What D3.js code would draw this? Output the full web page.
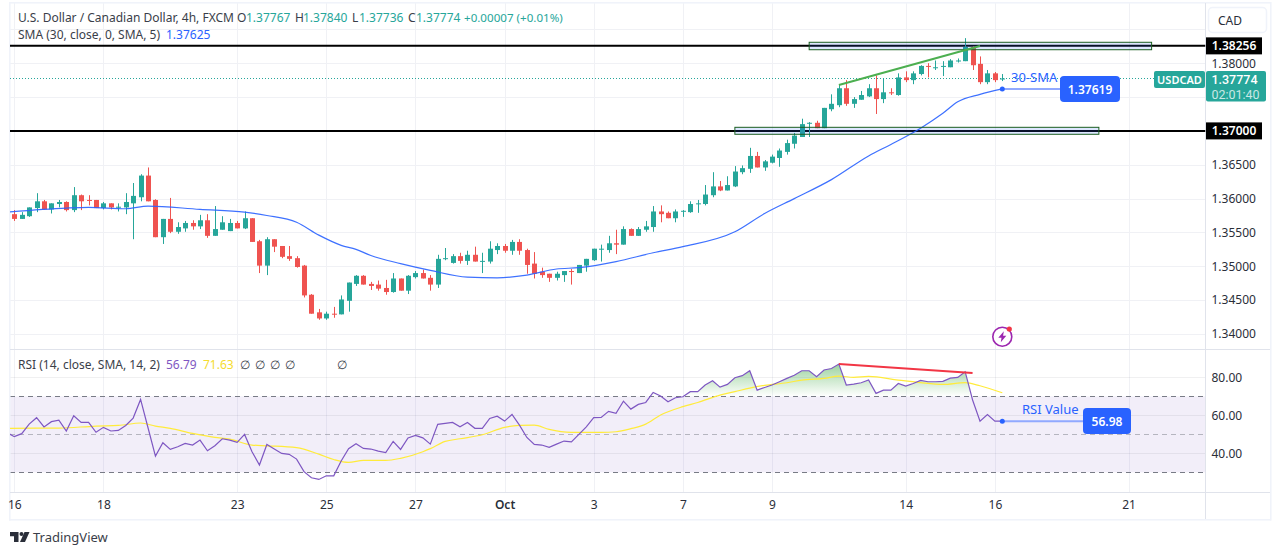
<!DOCTYPE html>
<html lang="en">
  <head>
    <meta charset="UTF-8" />
    <title>USDCAD 4h with SMA and RSI</title>
    <script src="https://d3js.org/d3.v7.min.js"></script>
    <style>
      body {
        margin: 0;
        background: #ffffff;
      }
      svg {
        display: block;
      }
      text {
        font-family: "Noto Sans", "Open Sans", sans-serif;
        font-size: 12px;
        fill: #131722;
      }
      .axis text {
        fill: #2a2e39;
      }
      .legend {
        fill: #3a3e49;
      }
      .tag {
        font-family: Roboto, sans-serif;
        font-size: 12.5px;
      }
    </style>
  </head>
  <body>
    <svg id="chart" width="1281" height="555"></svg>

    <script>
      // candles, one per 4h bar
      const opens = [
        1.3577, 1.357, 1.3574, 1.3586, 1.3596, 1.3584, 1.3592, 1.3595, 1.3583, 1.3605,
        1.3598, 1.3598, 1.3586, 1.3593, 1.3587, 1.3587, 1.3593, 1.3602, 1.3634, 1.3598,
        1.3543, 1.357, 1.3551, 1.3556, 1.3564, 1.3559, 1.3568, 1.3545, 1.3554, 1.3552,
        1.3564, 1.3556, 1.3571, 1.3537, 1.3501, 1.354, 1.353, 1.3515, 1.3512, 1.3501,
        1.3458, 1.3432, 1.3423, 1.343, 1.3429, 1.3449, 1.3474, 1.3486, 1.3474, 1.3473,
        1.3468, 1.3462, 1.3482, 1.3464, 1.3484, 1.349, 1.3483, 1.3473, 1.3511, 1.3505,
        1.3515, 1.3508, 1.3517, 1.3507, 1.3507, 1.3524, 1.353, 1.3523, 1.3536, 1.3524,
        1.3504, 1.3492, 1.3489, 1.3483, 1.3487, 1.3493, 1.349, 1.3501, 1.3509, 1.3525,
        1.3524, 1.3534, 1.3532, 1.3555, 1.3545, 1.3554, 1.3558, 1.3581, 1.3579, 1.3571,
        1.3581, 1.358, 1.3592, 1.3592, 1.3605, 1.3618, 1.3612, 1.3618, 1.3639, 1.3644,
        1.3663, 1.3646, 1.3653, 1.366, 1.3669, 1.3681, 1.3691, 1.3711, 1.3712, 1.3704,
        1.3732, 1.3738, 1.3763, 1.374, 1.3746, 1.3751, 1.3763, 1.3747, 1.3757, 1.3753,
        1.3779, 1.3775, 1.3784, 1.3796, 1.3793, 1.3795, 1.3794, 1.3803, 1.3803, 1.3824,
        1.3799, 1.3772, 1.3785, 1.37767,
      ];
      const highs = [
        1.3583, 1.358, 1.3587, 1.3608, 1.3598, 1.3593, 1.3598, 1.3596, 1.3617, 1.3606,
        1.3605, 1.3598, 1.3595, 1.3593, 1.3593, 1.3608, 1.3623, 1.3636, 1.3646, 1.3599,
        1.357, 1.3601, 1.3565, 1.3567, 1.3568, 1.3576, 1.3577, 1.3589, 1.3574, 1.357,
        1.3567, 1.3581, 1.3571, 1.3539, 1.3543, 1.354, 1.353, 1.353, 1.3515, 1.3502,
        1.3459, 1.3437, 1.3433, 1.344, 1.3457, 1.3476, 1.3487, 1.3487, 1.3477, 1.3479,
        1.348, 1.349, 1.3482, 1.3487, 1.3493, 1.3495, 1.3487, 1.3517, 1.3527, 1.3518,
        1.352, 1.3523, 1.3529, 1.352, 1.3537, 1.3534, 1.3533, 1.3539, 1.354, 1.3526,
        1.3521, 1.3498, 1.3489, 1.3492, 1.3493, 1.3496, 1.3502, 1.3511, 1.3526, 1.3532,
        1.3545, 1.3554, 1.3559, 1.3556, 1.3558, 1.3567, 1.3589, 1.359, 1.3581, 1.3584,
        1.3583, 1.3596, 1.3598, 1.362, 1.3639, 1.3626, 1.3633, 1.3648, 1.3649, 1.3675,
        1.3669, 1.3657, 1.3665, 1.3674, 1.3687, 1.3697, 1.3718, 1.3713, 1.3715, 1.3734,
        1.3754, 1.3768, 1.3775, 1.375, 1.3759, 1.3769, 1.3782, 1.3777, 1.3763, 1.3785,
        1.3788, 1.3788, 1.3797, 1.38, 1.3804, 1.3803, 1.3806, 1.3807, 1.3837, 1.3825,
        1.381, 1.379, 1.3787, 1.3784,
      ];
      const lows = [
        1.3567, 1.357, 1.3573, 1.358, 1.3584, 1.3578, 1.3587, 1.3581, 1.358, 1.3583,
        1.359, 1.3586, 1.3584, 1.3584, 1.3581, 1.3577, 1.354, 1.3596, 1.3596, 1.3543,
        1.3533, 1.3549, 1.3548, 1.3551, 1.3554, 1.3555, 1.3542, 1.3545, 1.3554, 1.3552,
        1.3556, 1.3555, 1.3536, 1.349, 1.3487, 1.3521, 1.3512, 1.3508, 1.3498, 1.3454,
        1.343, 1.3421, 1.3421, 1.3424, 1.3429, 1.3433, 1.3471, 1.3473, 1.3465, 1.3464,
        1.3458, 1.3461, 1.3464, 1.3459, 1.3482, 1.3482, 1.3464, 1.3468, 1.3509, 1.3504,
        1.3504, 1.3502, 1.3507, 1.349, 1.3504, 1.3518, 1.352, 1.3517, 1.3517, 1.3489,
        1.3482, 1.3483, 1.3477, 1.3479, 1.3477, 1.3473, 1.349, 1.3492, 1.3508, 1.3507,
        1.352, 1.3518, 1.3532, 1.3545, 1.3545, 1.3551, 1.3551, 1.3565, 1.3571, 1.3565,
        1.3573, 1.3579, 1.3579, 1.359, 1.3602, 1.3611, 1.3612, 1.3617, 1.3636, 1.3638,
        1.3646, 1.3641, 1.3652, 1.3647, 1.3665, 1.3674, 1.3691, 1.3691, 1.3704, 1.3704,
        1.3729, 1.3735, 1.3737, 1.3734, 1.3746, 1.375, 1.3725, 1.3741, 1.3753, 1.3752,
        1.3772, 1.3769, 1.3782, 1.3779, 1.379, 1.3781, 1.3794, 1.3801, 1.3803, 1.379,
        1.3769, 1.3769, 1.3772, 1.37736,
      ];
      const closes = [
        1.357, 1.3576, 1.3587, 1.3596, 1.3584, 1.3593, 1.3595, 1.3583, 1.3605, 1.3596,
        1.3597, 1.3586, 1.3593, 1.3587, 1.3588, 1.3595, 1.3604, 1.3634, 1.3596, 1.3543,
        1.357, 1.3551, 1.3558, 1.3564, 1.3559, 1.3568, 1.3545, 1.3555, 1.3565, 1.3564,
        1.3556, 1.3571, 1.3536, 1.3501, 1.354, 1.3529, 1.3514, 1.3511, 1.3499, 1.3457,
        1.343, 1.3423, 1.343, 1.3429, 1.3451, 1.3476, 1.3486, 1.3473, 1.3471, 1.3467,
        1.3462, 1.3482, 1.3464, 1.3486, 1.349, 1.3482, 1.3473, 1.3511, 1.3512, 1.3515,
        1.3508, 1.3517, 1.3507, 1.3508, 1.3526, 1.353, 1.3523, 1.3536, 1.3523, 1.3502,
        1.3489, 1.3487, 1.3483, 1.3489, 1.3493, 1.3492, 1.3502, 1.3511, 1.3526, 1.3526,
        1.3534, 1.3532, 1.3555, 1.3545, 1.3555, 1.3559, 1.3581, 1.3577, 1.3571, 1.3581,
        1.3582, 1.3592, 1.3593, 1.3606, 1.3618, 1.3612, 1.362, 1.364, 1.3645, 1.3663,
        1.3646, 1.3655, 1.3662, 1.3671, 1.3682, 1.3693, 1.371, 1.3712, 1.3704, 1.3734,
        1.374, 1.3763, 1.374, 1.3747, 1.3753, 1.3763, 1.3747, 1.3757, 1.3756, 1.3779,
        1.3775, 1.3785, 1.3796, 1.3795, 1.3794, 1.3796, 1.3804, 1.3804, 1.3824, 1.3797,
        1.3772, 1.3785, 1.3775, 1.37774,
      ];

      // 30-period SMA, read at the bars listed in smaBars
      const smaBars = [
        -1, 7, 10, 15, 18, 25, 31, 34, 38, 41, 44, 46, 48, 52, 56, 61, 65, 69, 73, 76, 81, 86, 90,
        97, 101, 105, 110, 115, 118, 122, 125, 127, 130, 133,
      ];
      const smaValues = [
        1.358, 1.3586, 1.3587, 1.3585, 1.3589, 1.3584, 1.358, 1.3575, 1.3565, 1.3546, 1.3531,
        1.3525, 1.3516, 1.3504, 1.3494, 1.3484, 1.3483, 1.3487, 1.3496, 1.3498, 1.3507, 1.352,
        1.3529, 1.3551, 1.3578, 1.36, 1.3628, 1.3663, 1.368, 1.3704, 1.3726, 1.3743, 1.3754,
        1.3762,
      ];

      // RSI, first value belongs to the bar just left of the chart edge
      const rsiFirstBar = -1;
      const rsiValues = [
        51.0, 48.8, 50.4, 55.4, 58.8, 53.9, 56.7, 57.5, 51.8, 59.8, 56.3, 56.3, 51.1, 53.7, 51.8,
        52.1, 54.7, 58.6, 68.4, 53.5, 38.6, 45.6, 42.1, 43.5, 45.3, 44.4, 47.0, 41.4, 44.0, 47.7,
        47.0, 45.8, 50.0, 40.9, 33.9, 44.7, 42.3, 40.0, 39.5, 37.0, 30.4, 27.2, 26.3, 28.2, 28.2,
        36.0, 42.5, 45.1, 42.6, 42.3, 41.2, 40.4, 46.3, 42.1, 48.1, 49.5, 48.2, 44.9, 55.3, 55.8,
        56.3, 54.0, 56.3, 53.2, 53.2, 58.4, 59.6, 57.0, 60.5, 54.9, 48.4, 44.7, 44.4, 43.2, 44.9,
        46.5, 46.1, 50.0, 54.0, 58.8, 58.9, 62.1, 61.1, 67.5, 63.3, 65.8, 66.8, 72.1, 70.2, 67.2,
        69.3, 69.8, 72.5, 72.5, 76.0, 78.2, 74.9, 76.3, 79.8, 80.9, 83.5, 73.3, 74.7, 76.0, 77.7,
        79.5, 81.1, 83.5, 83.5, 80.4, 83.9, 84.7, 87.0, 76.0, 76.5, 77.2, 78.6, 71.6, 73.3, 73.3,
        76.8, 75.4, 76.8, 78.4, 77.7, 77.7, 77.9, 79.6, 80.0, 83.0, 68.1, 57.0, 60.5, 57.0, 56.98,
      ];

      // yellow RSI moving average, read at the bars listed in rsiMaBars
      const rsiMaBars = [
        -1, 3, 6, 11, 14, 17, 19, 21, 24, 27, 29, 32, 34, 38, 41, 43, 45, 47, 50, 52, 55, 56, 58,
        60, 63, 66, 68, 70, 72, 75, 79, 81, 83, 85, 87, 90, 92, 95, 97, 99, 101, 104, 106, 109,
        111, 113, 115, 119, 122, 125, 128, 130, 133,
      ];
      const rsiMaValues = [
        53.2, 53.3, 53.3, 54.4, 54.7, 56.0, 54.4, 53.2, 50.5, 48.4, 47.5, 44.4, 44.0, 43.0, 39.6,
        36.8, 35.3, 36.3, 36.3, 37.4, 40.9, 42.5, 46.3, 47.7, 49.8, 53.7, 54.7, 54.9, 52.6, 51.1,
        51.1, 51.4, 53.0, 55.4, 60.2, 64.6, 66.8, 70.7, 72.5, 74.4, 75.8, 77.2, 78.6, 79.5, 80.7,
        80.0, 80.5, 78.6, 77.2, 76.3, 77.2, 75.6, 71.9,
      ];

      // axes
      const priceTicks = [1.34, 1.345, 1.35, 1.355, 1.36, 1.365, 1.375, 1.38];
      const rsiTicks = [40, 60, 80];
      const timeTickBars = [0, 12, 30, 42, 54, 66, 78, 90, 102, 120, 132, 150];
      const timeTickLabels = ["16", "18", "23", "25", "27", "Oct", "3", "7", "9", "14", "16", "21"];

      // drawn levels and annotations
      const levels = [1.38256, 1.37];
      const boxBars = [[107, 153.1], [97, 146]];
      const boxPrices = [[1.38309, 1.38199], [1.37053, 1.3695]];
      const priceTrendBars = [111, 130];
      const priceTrendValues = [1.37678, 1.38254];
      const rsiTrendBars = [111, 129];
      const rsiTrendValues = [87.0, 82.3];
      const lastClose = 1.37774;

      const green = "#26a69a";
      const red = "#ef5350";
      const blue = "#2962ff";
      const grid = "#f0f1f5";

      const left = 10;
      const right = 1205.5;

      const x = d3.scaleLinear().domain([0, 133]).range([14.3, 1002.3]);
      const yPrice = d3.scaleLinear().domain([1.34, 1.38]).range([334, 63.2]);
      const yRsi = d3.scaleLinear().domain([40, 80]).range([453.4, 377.4]);

      const svg = d3.select("#chart");
      const defs = svg.append("defs");
      defs.append("clipPath").attr("id", "pricePane").append("rect")
        .attr("x", left).attr("y", 3).attr("width", right - left).attr("height", 346);
      defs.append("clipPath").attr("id", "rsiPane").append("rect")
        .attr("x", left).attr("y", 349).attr("width", right - left).attr("height", 143);
      defs.append("clipPath").attr("id", "above70").append("rect")
        .attr("x", left).attr("y", 349).attr("width", right - left).attr("height", yRsi(70) - 349);
      const fade = defs.append("linearGradient").attr("id", "fade")
        .attr("gradientUnits", "userSpaceOnUse")
        .attr("x1", 0).attr("x2", 0).attr("y1", yRsi(87)).attr("y2", yRsi(70));
      fade.append("stop").attr("offset", 0).attr("stop-color", "#4caf50").attr("stop-opacity", 0.55);
      fade.append("stop").attr("offset", 1).attr("stop-color", "#4caf50").attr("stop-opacity", 0);

      // vertical and horizontal grid
      svg.append("g").selectAll("line").data(timeTickBars).join("line")
        .attr("x1", (d) => Math.round(x(d)) + 0.5).attr("x2", (d) => Math.round(x(d)) + 0.5)
        .attr("y1", 3).attr("y2", 492).attr("stroke", grid);
      svg.append("g").selectAll("line").data(priceTicks.concat([1.37, 1.385])).join("line")
        .attr("x1", left).attr("x2", right)
        .attr("y1", (d) => Math.round(yPrice(d)) + 0.5).attr("y2", (d) => Math.round(yPrice(d)) + 0.5)
        .attr("stroke", grid);

      // rsi band goes under its grid lines
      svg.append("rect").attr("x", left).attr("width", right - left)
        .attr("y", yRsi(70)).attr("height", yRsi(30) - yRsi(70)).attr("fill", "#7e57c2").attr("opacity", 0.1);
      svg.append("g").selectAll("line").data(rsiTicks).join("line")
        .attr("x1", left).attr("x2", right)
        .attr("y1", (d) => Math.round(yRsi(d)) + 0.5).attr("y2", (d) => Math.round(yRsi(d)) + 0.5)
        .attr("stroke", "#2a2e39").attr("stroke-opacity", 0.07);
      svg.append("g").selectAll("line").data([70, 50, 30]).join("line")
        .attr("x1", left).attr("x2", right)
        .attr("y1", (d) => Math.round(yRsi(d)) + 0.5).attr("y2", (d) => Math.round(yRsi(d)) + 0.5)
        .attr("stroke", "#787b86").attr("stroke-opacity", (d) => (d === 50 ? 0.5 : 1))
        .attr("stroke-dasharray", "5,4");

      // panes and frame
      svg.append("g").attr("fill", "#f0f3fa").selectAll("rect")
        .data([[left - 1, 2, 1262, 1.6], [left - 1, 519, 1262, 1.6], [left - 1, 2, 1.6, 518.6], [1270, 2, 1.6, 518.6]])
        .join("rect")
        .attr("x", (d) => d[0]).attr("y", (d) => d[1]).attr("width", (d) => d[2]).attr("height", (d) => d[3]);
      svg.append("g").attr("stroke", "#e0e3eb").selectAll("line")
        .data([[left, 349.5, 1270, 349.5], [left, 492.5, 1270, 492.5], [right, 3, right, 519]])
        .join("line")
        .attr("x1", (d) => d[0]).attr("y1", (d) => d[1]).attr("x2", (d) => d[2]).attr("y2", (d) => d[3]);

      const pricePane = svg.append("g").attr("clip-path", "url(#pricePane)");
      const rsiPane = svg.append("g").attr("clip-path", "url(#rsiPane)");

      // horizontal levels
      pricePane.append("line").attr("x1", left).attr("x2", right)
        .attr("y1", yPrice(lastClose)).attr("y2", yPrice(lastClose))
        .attr("stroke", green).attr("stroke-dasharray", "1,2");
      pricePane.selectAll(".level").data(levels).join("line").attr("class", "level")
        .attr("x1", left).attr("x2", right)
        .attr("y1", (d) => yPrice(d)).attr("y2", (d) => yPrice(d))
        .attr("stroke", "#000000").attr("stroke-width", 2);

      // candles
      const bars = d3.range(opens.length);
      const candle = pricePane.append("g").selectAll("g").data(bars).join("g")
        .attr("fill", (i) => (closes[i] >= opens[i] ? green : red))
        .attr("stroke", (i) => (closes[i] >= opens[i] ? green : red));
      candle.append("line")
        .attr("x1", (i) => Math.round(x(i)) + 0.5).attr("x2", (i) => Math.round(x(i)) + 0.5)
        .attr("y1", (i) => yPrice(highs[i])).attr("y2", (i) => yPrice(lows[i]));
      candle.append("rect")
        .attr("stroke", "none")
        .attr("x", (i) => Math.round(x(i)) - 2).attr("width", 5)
        .attr("y", (i) => yPrice(Math.max(opens[i], closes[i])))
        .attr("height", (i) => Math.max(1, Math.abs(yPrice(opens[i]) - yPrice(closes[i]))));

      // sma
      const smaLine = d3.line().curve(d3.curveMonotoneX).x((d, i) => x(smaBars[i])).y((d) => yPrice(d));
      pricePane.append("path").attr("d", smaLine(smaValues))
        .attr("fill", "none").attr("stroke", blue).attr("stroke-width", 1.2).attr("stroke-opacity", 0.9);

      // zones over the black levels
      pricePane.selectAll(".zone").data(boxBars).join("rect").attr("class", "zone")
        .attr("x", (d) => x(d[0])).attr("width", (d) => x(d[1]) - x(d[0]))
        .attr("y", (d, i) => yPrice(boxPrices[i][0]))
        .attr("height", (d, i) => yPrice(boxPrices[i][1]) - yPrice(boxPrices[i][0]))
        .attr("fill", "#2962ff").attr("fill-opacity", 0.16)
        .attr("stroke", "#1b5e20");

      // price trend line
      pricePane.append("line")
        .attr("x1", x(priceTrendBars[0])).attr("x2", x(priceTrendBars[1]))
        .attr("y1", yPrice(priceTrendValues[0])).attr("y2", yPrice(priceTrendValues[1]))
        .attr("stroke", "#4caf50").attr("stroke-width", 2);

      // rsi pane
      const rsiX = (d, i) => x(i + rsiFirstBar);
      rsiPane.append("path").attr("clip-path", "url(#above70)")
        .attr("d", d3.area().x(rsiX).y0(yRsi(70)).y1((d) => yRsi(d))(rsiValues))
        .attr("fill", "url(#fade)");
      rsiPane.append("path")
        .attr("d", d3.line().curve(d3.curveMonotoneX).x((d, i) => x(rsiMaBars[i])).y((d) => yRsi(d))(rsiMaValues))
        .attr("fill", "none").attr("stroke", "#ffeb3b").attr("stroke-width", 1.2);
      rsiPane.append("path")
        .attr("d", d3.line().x(rsiX).y((d) => yRsi(d))(rsiValues))
        .attr("fill", "none").attr("stroke", "#7e57c2").attr("stroke-width", 1.2);
      rsiPane.append("line")
        .attr("x1", x(rsiTrendBars[0])).attr("x2", x(rsiTrendBars[1]))
        .attr("y1", yRsi(rsiTrendValues[0])).attr("y2", yRsi(rsiTrendValues[1]))
        .attr("stroke", "#f23645").attr("stroke-width", 2);

      // axes
      const priceAxis = svg.append("g").attr("class", "axis").attr("transform", `translate(${right + 3},0)`)
        .call(d3.axisRight(yPrice).tickValues(priceTicks.filter((d) => d !== 1.375)).tickSize(0).tickFormat(d3.format(".5f")));
      const rsiAxis = svg.append("g").attr("class", "axis").attr("transform", `translate(${right + 3},0)`)
        .call(d3.axisRight(yRsi).tickValues(rsiTicks).tickSize(0).tickFormat(d3.format(".2f")));
      const timeAxis = svg.append("g").attr("class", "axis").attr("transform", "translate(0,497)")
        .call(d3.axisBottom(x).tickValues(timeTickBars).tickSize(0).tickFormat((d, i) => timeTickLabels[i]));
      [priceAxis, rsiAxis, timeAxis].forEach((a) => {
        a.select(".domain").remove();
        a.selectAll("text").style("font-size", "12px").style("font-family", null);
      });
      timeAxis.selectAll("text").filter((d, i) => timeTickLabels[i] === "Oct").style("font-weight", 600);

      // callout helper for the blue labels
      function callout(barIdx, yPos, boxX, boxW, boxTop, boxH, value, label, labelX, labelY) {
        svg.append("line").attr("x1", x(barIdx)).attr("x2", boxX).attr("y1", yPos).attr("y2", yPos)
          .attr("stroke", "#91a9ff").attr("stroke-width", 2);
        svg.append("circle").attr("cx", x(barIdx)).attr("cy", yPos).attr("r", 2.5).attr("fill", blue);
        svg.append("rect").attr("x", boxX).attr("y", boxTop).attr("width", boxW).attr("height", boxH)
          .attr("rx", 4).attr("fill", blue);
        svg.append("text").attr("x", boxX + boxW / 2).attr("y", boxTop + boxH / 2 + 4.5)
          .attr("text-anchor", "middle").style("fill", "#ffffff").style("font-size", "12px").style("font-weight", 600)
          .text(value);
        svg.append("text").attr("x", labelX).attr("y", labelY)
          .style("fill", blue).style("font-size", "13px").text(label);
      }
      callout(133, yPrice(1.37619), 1060, 60, 76, 26, "1.37619", "30-SMA", 1011, 82);
      callout(133, yRsi(56.98), 1083, 48, 408, 26, "56.98", "RSI Value", 1022, 414);

      // axis price tags
      levels.forEach((d) => {
        svg.append("rect").attr("x", right + 0.5).attr("y", yPrice(d) - 8.5).attr("width", 56).attr("height", 17).attr("fill", "#000000");
        svg.append("text").attr("x", right + 28.5).attr("y", yPrice(d) + 4.5).attr("text-anchor", "middle")
          .style("fill", "#ffffff").style("font-weight", 600).text(d3.format(".5f")(d));
      });
      svg.append("rect").attr("x", 1154).attr("y", 71).attr("width", 51).attr("height", 17).attr("rx", 2).attr("fill", green);
      svg.append("text").attr("x", 1179.5).attr("y", 83.5).attr("text-anchor", "middle")
        .style("fill", "#ffffff").style("font-weight", 600).style("font-size", "11px").text("USDCAD");
      svg.append("rect").attr("x", right + 0.5).attr("y", 71).attr("width", 60).attr("height", 30.5).attr("rx", 2).attr("fill", green);
      svg.append("text").attr("class", "tag").attr("x", right + 29).attr("y", 84).attr("text-anchor", "middle")
        .style("fill", "#ffffff").style("font-weight", 500).text("1.37774");
      svg.append("text").attr("class", "tag").attr("x", right + 30).attr("y", 98.5).attr("text-anchor", "middle")
        .style("fill", "#ffffff").style("fill-opacity", 0.75).text("02:01:40");

      // currency button
      svg.append("rect").attr("x", 1208.5).attr("y", 7.5).attr("width", 58).attr("height", 25).attr("rx", 4)
        .attr("fill", "#ffffff").attr("stroke", "#f0f3fa").attr("stroke-width", 1.5);
      svg.append("text").attr("x", 1218).attr("y", 25).style("fill", "#2a2e39").text("CAD");

      // legend rows
      const legend = svg.append("g");
      function put(xPos, yPos, str, color) {
        return legend.append("text").attr("class", "legend").attr("x", xPos).attr("y", yPos).style("fill", color || null).text(str);
      }
      put(18, 22, "U.S. Dollar / Canadian Dollar, 4h, FXCM");
      put(237, 22, "O"); put(246, 22, "1.37767", green);
      put(295, 22, "H"); put(303, 22, "1.37840", green);
      put(352, 22, "L"); put(359, 22, "1.37736", green);
      put(408, 22, "C"); put(416, 22, "1.37774", green);
      put(464, 22, "+0.00007 (+0.01%)", green).style("font-size", "11.6px");
      put(18, 39, "SMA (30, close, 0, SMA, 5)");
      put(166, 39, "1.37625", blue);
      put(18, 369, "RSI (14, close, SMA, 14, 2)");
      put(166, 369, "56.79", "#7e57c2");
      put(203, 369, "71.63", "#f5dc2e");
      [240, 255, 270, 285, 337].forEach((p) => put(p, 369, "\u2205"));

      // purple bolt badge
      const badge = svg.append("g").attr("transform", "translate(1002.3,336.7)");
      badge.append("circle").attr("r", 9.5).attr("fill", "#ffffff").attr("stroke", "#9c27b0").attr("stroke-width", 1.6);
      badge.append("path").attr("d", "M1.5,-5.5 L-4,1 L-0.8,1 L-1.5,5.5 L4,-1 L0.8,-1 Z").attr("fill", "#9c27b0");
      badge.append("circle").attr("cx", 7).attr("cy", -7.7).attr("r", 2.6).attr("fill", "#f23645");

      // tradingview logo
      const logo = svg.append("g").attr("transform", "translate(10,532)").attr("fill", "#2a2e39");
      logo.append("path").attr("d", "M0,0 H8.5 V10 H4 V4.2 H0 Z");
      logo.append("circle").attr("cx", 11.5).attr("cy", 2).attr("r", 2);
      logo.append("path").attr("d", "M14.5,0 H19.5 L15,10 H10 Z");
      svg.append("text").attr("x", 33).attr("y", 542).style("fill", "#3a3e49").style("font-size", "13px").text("TradingView");
    </script>
  </body>
</html>
